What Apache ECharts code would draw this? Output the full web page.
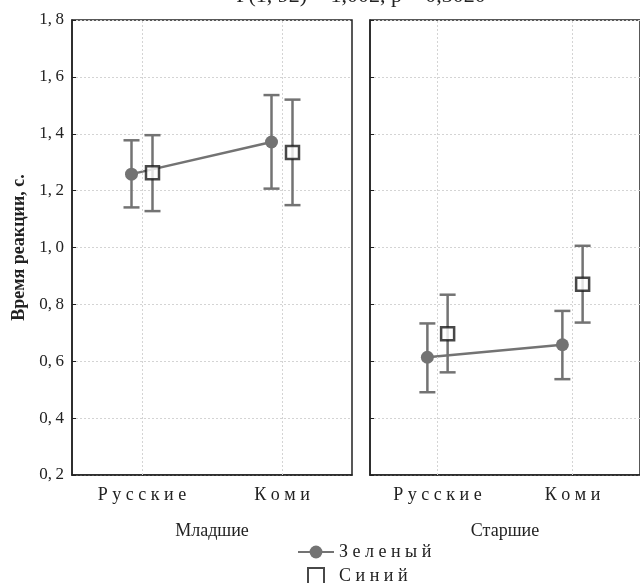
<!DOCTYPE html>
<html>
<head>
<meta charset="utf-8">
<script src="https://cdn.jsdelivr.net/npm/echarts@6/dist/echarts.min.js"></script>
<style>
  html, body { margin: 0; padding: 0; background: #fff; }
  #chart { width: 640px; height: 583px; }
</style>
</head>
<body>
<div id="chart"></div>
<script>
// данные: средние и доверительные интервалы
var categories = ["Русские", "Коми"];
var groups = ["Младшие", "Старшие"];
var seriesNames = ["Зеленый", "Синий"];

var youngGreen = [1.258, 1.371];
var youngGreenLow = [1.141, 1.207];
var youngGreenHigh = [1.377, 1.536];
var youngBlue = [1.263, 1.334];
var youngBlueLow = [1.128, 1.149];
var youngBlueHigh = [1.395, 1.520];

var oldGreen = [0.614, 0.658];
var oldGreenLow = [0.491, 0.537];
var oldGreenHigh = [0.733, 0.777];
var oldBlue = [0.697, 0.871];
var oldBlueLow = [0.561, 0.736];
var oldBlueHigh = [0.834, 1.006];

var title = "F(1, 92) = 1,002, p = 0,3020";

var SERIF = "Liberation Serif";
var GRAY = "#737373";
var shift = 0.075; // сдвиг маркеров от категории

function spaced(s) {
  return s.split("").join(" ");
}

function pts(vals, off) {
  return vals.map(function (v, i) { return [i + 1 + off, v]; });
}
function bars(lo, hi, off) {
  return lo.map(function (v, i) { return [i + 1 + off, v, hi[i]]; });
}

function errRender(params, api) {
  var x = api.value(0);
  var a = api.coord([x, api.value(1)]);
  var b = api.coord([x, api.value(2)]);
  var half = 8;
  var st = { stroke: GRAY, lineWidth: 2.5 };
  return {
    type: "group",
    children: [
      { type: "line", shape: { x1: a[0], y1: a[1], x2: b[0], y2: b[1] }, style: st },
      { type: "line", shape: { x1: a[0] - half, y1: a[1], x2: a[0] + half, y2: a[1] }, style: st },
      { type: "line", shape: { x1: b[0] - half, y1: b[1], x2: b[0] + half, y2: b[1] }, style: st }
    ]
  };
}

var grids = [
  { left: 72, top: 20, width: 280, height: 455 },
  { left: 370, top: 20, width: 280, height: 455 }
];

var xAxes = [];
var yAxes = [];
var series = [];
var panelData = [
  [youngGreen, youngGreenLow, youngGreenHigh, youngBlue, youngBlueLow, youngBlueHigh],
  [oldGreen, oldGreenLow, oldGreenHigh, oldBlue, oldBlueLow, oldBlueHigh]
];

grids.forEach(function (g, gi) {
  g.show = true;
  g.borderColor = "#222";
  g.borderWidth = 1.5;
  xAxes.push({
    gridIndex: gi,
    type: "category",
    data: categories,
    boundaryGap: true,
    axisLine: { lineStyle: { color: "#222", width: 1.5 } },
    axisTick: { inside: true, alignWithLabel: true, length: 4, lineStyle: { color: "#222" } },
    axisLabel: {
      color: "#222", fontFamily: SERIF, fontSize: 18, margin: 11,
      formatter: function (v) { return spaced(v); }
    },
    name: groups[gi],
    nameLocation: "middle",
    nameGap: 47,
    nameTextStyle: { color: "#222", fontFamily: SERIF, fontSize: 18 },
    splitLine: { show: false }
  });
  xAxes.push({
    gridIndex: gi,
    type: "value",
    min: 0.5,
    max: 2.5,
    show: false
  });
  yAxes.push({
    gridIndex: gi,
    type: "value",
    min: 0.2,
    max: 1.8,
    interval: 0.2,
    axisLine: { show: true, lineStyle: { color: "#222", width: 1.5 } },
    axisTick: { show: true, inside: true, length: 4, lineStyle: { color: "#222" } },
    axisLabel: {
      show: gi === 0,
      color: "#222", fontFamily: SERIF, fontSize: 17, margin: 8,
      formatter: function (v) { return v.toFixed(1).replace(".", ",\u2009"); }
    },
    splitLine: { show: true, lineStyle: { color: "#d4d4d4", type: [2, 2], width: 1 } },
    name: gi === 0 ? "Время реакции, с." : "",
    nameLocation: "middle",
    nameGap: 44,
    nameTextStyle: { color: "#222", fontFamily: SERIF, fontSize: 18, fontWeight: "bold" }
  });

  var d = panelData[gi];
  var xi = gi * 2 + 1;
  series.push({
    type: "custom",
    xAxisIndex: xi,
    yAxisIndex: gi,
    renderItem: errRender,
    data: bars(d[1], d[2], -shift).concat(bars(d[4], d[5], shift)),
    silent: true,
    z: 2,
    markLine: {
      silent: true,
      symbol: "none",
      label: { show: false },
      lineStyle: { color: "#d4d4d4", type: [2, 2], width: 1 },
      data: [{ xAxis: 1 }, { xAxis: 2 }]
    }
  });
  series.push({
    name: seriesNames[0],
    type: "line",
    xAxisIndex: xi,
    yAxisIndex: gi,
    data: pts(d[0], -shift),
    symbol: "circle",
    symbolSize: 13,
    itemStyle: { color: GRAY },
    lineStyle: { color: GRAY, width: 2.5 },
    z: 4
  });
  series.push({
    name: seriesNames[1],
    type: "scatter",
    xAxisIndex: xi,
    yAxisIndex: gi,
    data: pts(d[3], shift),
    symbol: "rect",
    symbolSize: 13,
    itemStyle: { color: "#fff", borderColor: "#1a1a1a", borderWidth: 2.5 },
    z: 5
  });
});

var chart = echarts.init(document.getElementById("chart"));
chart.setOption({
  animation: false,
  backgroundColor: "#fff",
  title: {
    text: title,
    left: 356,
    textAlign: "center",
    top: -20,
    textStyle: { color: "#222", fontFamily: SERIF, fontSize: 22, fontWeight: "normal" }
  },
  legend: {
    orient: "vertical",
    left: 297,
    top: 543,
    height: 70,
    padding: 0,
    itemGap: 6,
    itemWidth: 36,
    itemHeight: 16,
    data: [
      { name: seriesNames[0] },
      { name: seriesNames[1], icon: "path://M0,0h10v10h-10z" }
    ],
    formatter: function (n) { return spaced(n); },
    textStyle: { color: "#222", fontFamily: SERIF, fontSize: 18 }
  },
  grid: grids,
  xAxis: xAxes,
  yAxis: yAxes,
  series: series
});
</script>
</body>
</html>
